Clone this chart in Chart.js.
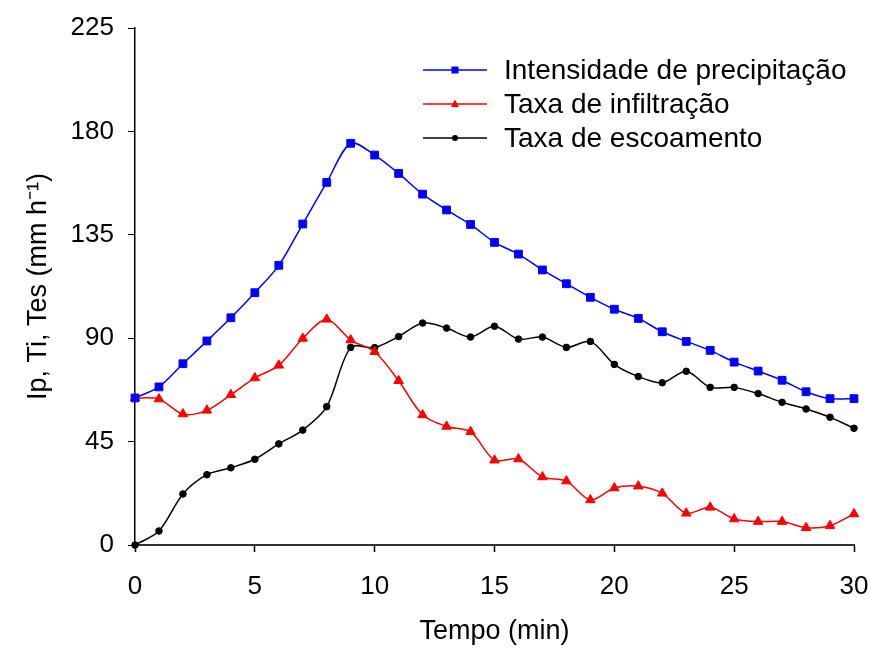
<!DOCTYPE html>
<html>
<head>
<meta charset="utf-8">
<script src="https://cdn.jsdelivr.net/npm/chart.js@4/dist/chart.umd.min.js"></script>
<style>
  html, body { margin: 0; padding: 0; background: #fff; }
  #wrap { width: 870px; height: 648px; }
</style>
</head>
<body>
<div id="wrap"><canvas id="chart" width="870" height="648"></canvas></div>
<script>
// dados
const tempo = [0,1,2,3,4,5,6,7,8,9,10,11,12,13,14,15,16,17,18,19,20,21,22,23,24,25,26,27,28,29,30];
const intensidade = [64, 68.8, 78.9, 88.8, 98.9, 109.8, 121.7, 139.7, 157.8, 174.8, 169.7, 161.7, 152.7, 145.8, 139.5, 131.7, 126.6, 119.7, 113.7, 107.8, 102.6, 98.6, 92.8, 88.6, 84.7, 79.6, 75.7, 71.7, 66.7, 63.7, 63.7];
const infiltracao = [64, 63.5, 57.0, 58.6, 65.4, 72.7, 78.2, 89.9, 98.2, 89.2, 84.1, 71.5, 56.6, 51.6, 49.3, 36.9, 37.4, 29.6, 27.8, 19.6, 24.8, 25.6, 22.5, 13.8, 16.4, 11.3, 10.2, 10.2, 7.5, 8.4, 13.5];
const escoamento = [0, 6.1, 22.2, 30.6, 33.6, 37.3, 44.0, 50.0, 60.2, 86.0, 85.9, 90.7, 96.6, 94.4, 90.5, 95.2, 89.6, 90.5, 86.0, 88.6, 78.6, 73.3, 70.6, 75.6, 68.6, 68.6, 65.9, 62.1, 59.2, 55.6, 50.8];
const seriesNames = ["Intensidade de precipitação", "Taxa de infiltração", "Taxa de escoamento"];
const xTicks = [0, 5, 10, 15, 20, 25, 30];
const yTicks = [0, 45, 90, 135, 180, 225];

const FONT = "'Liberation Sans', Arial, sans-serif";

const toPoints = (vals) => tempo.map((t, i) => ({ x: t, y: vals[i] }));

const makeSet = (label, vals, color, style, radius) => ({
    label: label,
    data: toPoints(vals),
    borderColor: color,
    backgroundColor: color,
    borderWidth: 1.5,
    pointStyle: style,
    pointRadius: radius,
    pointBorderWidth: 1,
    pointHoverRadius: radius,
    tension: 0.3,
    clip: false
});

// legenda desenhada à mão (linha + marcador + texto)
const legendPlugin = {
    id: 'legendaManual',
    afterDraw(chart) {
        const ctx = chart.ctx;
        const rows = [
            { y: 70, color: '#0000ff', style: 'rect' },
            { y: 104, color: '#ff0000', style: 'triangle' },
            { y: 138, color: '#000000', style: 'circle' }
        ];
        ctx.save();
        rows.forEach((r, i) => {
            ctx.strokeStyle = r.color;
            ctx.fillStyle = r.color;
            ctx.lineWidth = 1.5;
            ctx.beginPath();
            ctx.moveTo(423, r.y);
            ctx.lineTo(487, r.y);
            ctx.stroke();
            ctx.beginPath();
            if (r.style === 'rect') {
                ctx.rect(451.5, r.y - 3.5, 7, 7);
            } else if (r.style === 'triangle') {
                ctx.moveTo(455, r.y - 4.5);
                ctx.lineTo(459, r.y + 3);
                ctx.lineTo(451, r.y + 3);
                ctx.closePath();
            } else {
                ctx.arc(455, r.y, 3, 0, Math.PI * 2);
            }
            ctx.fill();
            ctx.fillStyle = '#000';
            ctx.font = '28px ' + FONT;
            ctx.textBaseline = 'middle';
            ctx.textAlign = 'left';
            ctx.fillText(seriesNames[i], 504, r.y + 1);
        });
        ctx.restore();
    }
};

const ctx = document.getElementById('chart').getContext('2d');
new Chart(ctx, {
    type: 'line',
    data: {
        datasets: [
            makeSet(seriesNames[0], intensidade, '#0000ff', 'rect', 5.5),
            makeSet(seriesNames[1], infiltracao, '#ff0000', 'triangle', 5.5),
            makeSet(seriesNames[2], escoamento, '#000000', 'circle', 3.3)
        ]
    },
    options: {
        responsive: false,
        animation: false,
        layout: { padding: { top: 28, right: 16, left: 0, bottom: 0 } },
        plugins: {
            legend: { display: false },
            tooltip: { enabled: false }
        },
        scales: {
            x: {
                type: 'linear',
                min: 0,
                max: 30,
                afterFit: (s) => { s.height = 103; s.paddingRight = 0; s.paddingLeft = 0; },
                afterBuildTicks: (s) => { s.ticks = xTicks.map(v => ({ value: v })); },
                grid: { drawOnChartArea: false, color: '#000', tickLength: 7, tickWidth: 1.5 },
                border: { color: '#333', width: 2 },
                ticks: { color: '#000', padding: 19, font: { family: FONT, size: 26 }, maxRotation: 0 },
                title: {
                    display: true,
                    text: 'Tempo (min)',
                    color: '#000',
                    font: { family: FONT, size: 27, lineHeight: 1.2 },
                    padding: { top: 0, bottom: 0 }
                }
            },
            y: {
                type: 'linear',
                min: 0,
                max: 225,
                afterFit: (s) => { s.width = 135; s.paddingTop = 0; s.paddingBottom = 0; },
                afterBuildTicks: (s) => { s.ticks = yTicks.map(v => ({ value: v })); },
                grid: { drawOnChartArea: false, color: '#000', tickLength: 7, tickWidth: 1 },
                border: { color: '#000', width: 1.5 },
                ticks: { color: '#000', padding: 14, font: { family: FONT, size: 26 } },
                title: {
                    display: true,
                    text: 'Ip, Ti, Tes (mm h⁻¹)',
                    color: '#000',
                    font: { family: FONT, size: 27, lineHeight: 1.2 },
                    padding: { top: 22, bottom: 0 }
                }
            }
        }
    },
    plugins: [legendPlugin]
});
</script>
</body>
</html>
